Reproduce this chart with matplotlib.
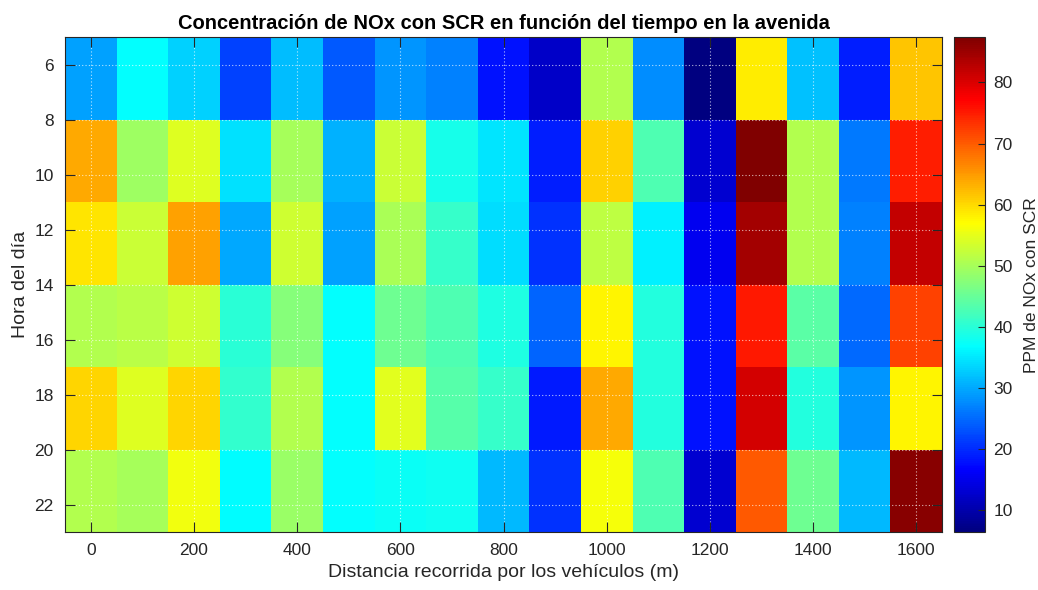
import matplotlib
matplotlib.use("Agg")
import matplotlib.pyplot as plt
from matplotlib.colors import LinearSegmentedColormap
import numpy as np

plt.rcParams["font.family"] = ["Liberation Sans", "DejaVu Sans"]

# Distance along the avenue (m) and hour of day (centre of each 3 h block)
distancia = [0, 100, 200, 300, 400, 500, 600, 700, 800, 900,
             1000, 1100, 1200, 1300, 1400, 1500, 1600]
hora = [6.5, 9.5, 12.5, 15.5, 18.5, 21.5]

# NOx concentration with SCR (ppm), one list per time block
nox_05_08 = [29.3, 36.8, 33.1, 21.8, 31.6, 23.6, 28.5, 26.9, 17.8, 12.1,
             50.8, 27.6, 6.4, 58.3, 31.9, 18.9, 61.5]
nox_08_11 = [63.8, 49.4, 54.2, 34.3, 50.0, 30.7, 52.6, 38.4, 34.8, 19.0,
             60.8, 43.1, 12.9, 87.4, 51.0, 26.1, 74.9]
nox_11_14 = [59.1, 52.6, 64.6, 29.9, 53.0, 29.3, 50.2, 40.9, 34.0, 20.6,
             51.8, 35.6, 15.3, 84.5, 50.8, 26.9, 81.9]
nox_14_17 = [51.0, 51.4, 53.0, 40.1, 47.5, 37.0, 45.5, 43.0, 39.3, 24.5,
             57.9, 39.5, 18.1, 75.3, 44.0, 24.9, 71.9]
nox_17_20 = [60.3, 54.2, 60.3, 40.8, 51.0, 37.0, 54.6, 43.6, 40.9, 18.5,
             63.8, 39.4, 18.1, 80.6, 39.4, 28.5, 57.9]
nox_20_23 = [50.8, 50.0, 55.9, 36.5, 48.8, 37.0, 37.6, 37.8, 31.3, 20.6,
             56.3, 43.0, 12.9, 70.3, 45.5, 31.3, 86.5]

nox = np.array([nox_05_08, nox_08_11, nox_11_14, nox_14_17, nox_17_20, nox_20_23])

# cell edges from the centres (uniform spacing)
x = np.asarray(distancia, dtype=float)
y = np.asarray(hora, dtype=float)
dx = x[1] - x[0]
dy = y[1] - y[0]
x_edges = np.append(x - dx / 2, x[-1] + dx / 2)
y_edges = np.append(y - dy / 2, y[-1] + dy / 2)

# classic MATLAB-style jet (piecewise linear in eighths)
jet_ml = LinearSegmentedColormap("jet_ml", {
    "red":   [(0, 0, 0), (3 / 8, 0, 0), (5 / 8, 1, 1), (7 / 8, 1, 1), (1, 0.5, 0.5)],
    "green": [(0, 0, 0), (1 / 8, 0, 0), (3 / 8, 1, 1), (5 / 8, 1, 1), (7 / 8, 0, 0), (1, 0, 0)],
    "blue":  [(0, 0.5, 0.5), (1 / 8, 1, 1), (3 / 8, 1, 1), (5 / 8, 0, 0), (1, 0, 0)],
}, N=256)

dark = "#262626"

fig = plt.figure(figsize=(10.38, 5.90), dpi=100)
ax = fig.add_axes([0.0626, 0.098, 0.845, 0.839])
cax = fig.add_axes([0.919, 0.098, 0.030, 0.839])

mesh = ax.pcolormesh(x_edges, y_edges, nox, cmap=jet_ml,
                     vmin=nox.min(), vmax=nox.max())
ax.set_xlim(x_edges[0], x_edges[-1])
ax.set_ylim(y_edges[-1], y_edges[0])

ax.set_xticks(np.arange(0, 1601, 200))
ax.set_yticks(np.arange(6, 23, 2))
ax.tick_params(direction="in", length=7, width=0.8, colors=dark,
               labelsize=12.5, top=True, right=True, pad=8)
ax.grid(True, color="white", linestyle=(0, (1, 2)), linewidth=0.8, alpha=0.7)
for sp in ax.spines.values():
    sp.set_color(dark)
    sp.set_linewidth(0.8)

ax.set_title("Concentración de NOx con SCR en función del tiempo en la avenida",
             fontsize=14.5, fontweight="bold", color="black", pad=6)
ax.set_xlabel("Distancia recorrida por los vehículos (m)", fontsize=14, color=dark)
ax.set_ylabel("Hora del día", fontsize=14, color=dark)

cb = fig.colorbar(mesh, cax=cax)
cb.set_ticks(np.arange(10, 81, 10))
cb.ax.tick_params(direction="in", length=5, width=0.8, colors=dark,
                  labelsize=12.5, pad=6)
cb.outline.set_edgecolor(dark)
cb.outline.set_linewidth(0.8)
cb.set_label("PPM de NOx con SCR", fontsize=12.5, color=dark, labelpad=8)

fig.savefig("out.png", dpi=100)
